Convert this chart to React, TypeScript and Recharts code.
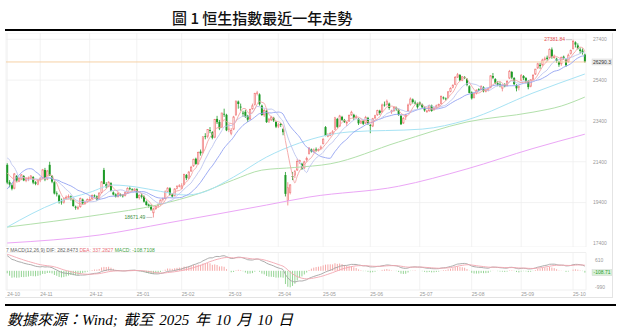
import {
  ComposedChart,
  Bar,
  Line,
  XAxis,
  YAxis,
  CartesianGrid,
  ReferenceLine,
  ReferenceDot,
} from 'recharts';

// month labels on the time axis and the number of trading days shown in each month
const monthLabels = ['24-10', '24-11', '24-12', '25-01', '25-02', '25-03', '25-04', '25-05', '25-06', '25-07', '25-08', '25-09', '25-10'];
const monthDays = [14, 21, 20, 19, 20, 21, 19, 20, 21, 22, 21, 22, 6];

// daily candles, Oct 2024 -> 10 Oct 2025
const opens = [
  21250, 20400, 20250, 20100, 20700, 20450, 20550, 20700, 20480, 20560, 20600, 20650, 20400, 20300,
  20520, 20600, 21000, 20550, 21250, 20700, 20400, 19850, 19750, 19450, 19400, 19600, 19650, 19700, 19550, 19200, 19100, 19200, 19550, 19350, 19450,
  19500, 19600, 19750, 19700, 19600, 19900, 21000, 20300, 20200, 20350, 19900, 19800, 19700, 19800, 19750, 19750, 19900, 20100, 20050, 20000,
  20050, 19650, 19750, 19700, 19450, 19300, 19250, 18900, 19100, 19250, 19300, 19550, 19600, 19950, 20100, 19800, 19750, 20100, 20200,
  20100, 20300, 20750, 20600, 20950, 21200, 21550, 21300, 21900, 21850, 22650, 22650, 22950, 22850, 22600, 23500, 23350, 23100, 23750, 23700,
  23000, 22800, 23000, 23700, 24350, 24100, 23800, 23850, 23650, 23500, 24000, 24200, 24750, 24700, 24150, 23700, 23900, 23400, 23450, 23550, 23350,
  23150, 23250, 23000, 20750, 19500, 19900, 20700, 20750, 21000, 21400, 21300, 21100, 21500, 21800, 22000, 21900, 22000, 21950, 22050,
  22300, 23100, 22650, 22700, 22800, 23000, 23500, 23150, 23600, 23450, 23300, 23400, 23700, 23700, 23550, 23500, 23300, 23400, 23300, 23550,
  23200, 23150, 23550, 23700, 23900, 23850, 24200, 24200, 24250, 23850, 23900, 24050, 23950, 23650, 23300, 23600, 23900, 24200, 24450, 24300, 24250,
  24300, 24200, 24050, 23850, 23900, 24150, 23950, 24050, 24150, 24250, 24550, 24500, 24550, 24850, 25050, 25200, 25550, 25650, 25400, 25550, 25450, 25100,
  24800, 24550, 24750, 24950, 24950, 25050, 24850, 24900, 25050, 25600, 25450, 25250, 25200, 25000, 25150, 25150, 25500, 25800, 25500, 25150, 25050,
  25400, 25600, 25500, 25350, 25100, 25450, 25700, 26000, 26150, 26150, 26400, 26500, 26500, 26900, 26500, 26450, 26300, 26200, 26550, 26400, 26300, 26700,
  26950, 27250, 27100, 26900, 26850, 26650,
];
const highs = [
  21330, 20500, 20350, 20850, 20750, 20650, 20800, 20750, 20650, 20680, 20750, 20700, 20450, 20550,
  20650, 21050, 21100, 21000, 21400, 20750, 20450, 19950, 19800, 19600, 19650, 19750, 19800, 19750, 19600, 19250, 19250, 19650, 19600, 19500, 19600,
  19700, 19800, 19800, 19750, 19900, 20450, 21100, 20400, 20450, 20400, 19950, 19850, 19900, 19850, 19800, 19950, 20150, 20200, 20100, 20100,
  20100, 19800, 19850, 19750, 19500, 19350, 19300, 19150, 19250, 19350, 19550, 19650, 20000, 20150, 20150, 19850, 20100, 20250, 20300,
  20350, 20800, 20800, 20950, 21200, 21550, 21600, 21900, 22000, 22650, 22800, 23000, 23100, 22900, 23500, 23650, 23450, 23800, 24000, 23750,
  23250, 23050, 23650, 24400, 24400, 24250, 23900, 23950, 23700, 24000, 24250, 24780, 24874, 24750, 24200, 24000, 23950, 23550, 23650, 23600, 23400,
  23300, 23300, 23050, 20900, 20400, 20300, 20900, 21000, 21550, 21500, 21350, 21450, 21650, 22100, 22050, 22050, 22100, 22050, 22200,
  22550, 23150, 22800, 22850, 22950, 23600, 23550, 23700, 23650, 23500, 23400, 23700, 23900, 23750, 23700, 23550, 23450, 23450, 23650, 23600,
  23250, 23550, 23700, 23950, 23950, 24250, 24350, 24450, 24300, 23950, 24100, 24100, 24000, 23700, 23600, 23750, 24250, 24550, 24500, 24400, 24300,
  24350, 24250, 24100, 23950, 24200, 24200, 24100, 24200, 24250, 24650, 24600, 24550, 24850, 25050, 25200, 25600, 25750, 25700, 25600, 25600, 25500, 25150,
  24850, 24750, 24950, 25000, 25150, 25100, 24950, 25000, 25650, 25750, 25500, 25350, 25300, 25200, 25250, 25400, 25900, 25850, 25550, 25200, 25150,
  25700, 25650, 25550, 25400, 25450, 25700, 25950, 26250, 26250, 26450, 26550, 26600, 26950, 27000, 26650, 26500, 26350, 26550, 26600, 26450, 26700, 26900,
  27381.84, 27300, 27200, 27000, 26950, 26700,
];
const lows = [
  20300, 20150, 20000, 20050, 20400, 20400, 20500, 20450, 20400, 20450, 20550, 20300, 20250, 20250,
  20400, 20550, 20450, 20500, 20700, 20350, 19800, 19700, 19350, 19300, 19350, 19550, 19600, 19500, 19200, 19050, 19050, 19150, 19300, 19300, 19400,
  19450, 19550, 19650, 19500, 19550, 19850, 20300, 20100, 20150, 19950, 19750, 19650, 19650, 19700, 19650, 19700, 19850, 20000, 19950, 19950,
  19600, 19550, 19600, 19400, 19250, 19150, 19000, 18671.49, 19050, 19150, 19250, 19450, 19580, 19900, 19750, 19650, 19700, 20050, 20150,
  20050, 20250, 20500, 20550, 20900, 21150, 21250, 21250, 21700, 21800, 22500, 22550, 22800, 22500, 22550, 23250, 22950, 23050, 23600, 22900,
  22850, 22700, 22950, 23650, 24000, 23900, 23600, 23550, 23350, 23450, 23950, 24150, 24650, 24150, 23650, 23600, 23300, 23300, 23400, 23350, 23050,
  23050, 23100, 22700, 19700, 19260, 19800, 20500, 20600, 20950, 21300, 21000, 21050, 21400, 21750, 21850, 21850, 21900, 21900, 22000,
  22250, 22650, 22600, 22650, 22750, 22950, 23050, 23100, 23400, 23300, 23150, 23350, 23650, 23450, 23500, 23200, 23250, 23200, 23250, 23200,
  22800, 23100, 23500, 23650, 23700, 23800, 24100, 24150, 23950, 23750, 23850, 23900, 23650, 23200, 23250, 23450, 23850, 24150, 24250, 24200, 24000,
  24150, 24000, 23850, 23800, 23850, 23850, 23900, 24000, 24100, 24200, 24450, 24400, 24500, 24800, 25000, 25150, 25500, 25350, 25350, 25450, 25100, 24750,
  24450, 24500, 24700, 24850, 24900, 24800, 24800, 24850, 25000, 25450, 25200, 25100, 25050, 24850, 25050, 25100, 25450, 25450, 25150, 24850, 24900,
  25350, 25400, 25250, 24950, 25050, 25400, 25650, 25950, 25950, 26100, 26350, 26350, 26450, 26450, 26450, 26250, 26050, 26100, 26400, 26050, 26250, 26650,
  26900, 27000, 26900, 26700, 26650, 26250,
];
const closes = [
  20380, 20286, 20079, 20804, 20478, 20599, 20761, 20489, 20590, 20599, 20701, 20380, 20317, 20506,
  20567, 21007, 20538, 20953, 20728, 20426, 19846, 19823, 19435, 19426, 19577, 19663, 19705, 19601, 19230, 19151, 19159, 19603, 19366, 19424, 19550,
  19550, 19746, 19742, 19560, 19866, 20415, 20311, 20156, 20398, 19971, 19796, 19700, 19865, 19753, 19721, 19883, 20098, 20090, 20041, 20060,
  19623, 19760, 19688, 19447, 19280, 19240, 19064, 19087, 19219, 19286, 19522, 19584, 19925, 20107, 19779, 19700, 20066, 20197, 20225,
  20217, 20790, 20597, 20891, 21133, 21521, 21294, 21857, 21814, 22620, 22616, 22976, 22944, 22577, 23478, 23341, 23035, 23788, 23718, 22941,
  23006, 22941, 23595, 24370, 24231, 24059, 23783, 23600, 23462, 23959, 24146, 24740, 24771, 24219, 23690, 23906, 23344, 23483, 23579, 23426, 23120,
  23207, 23202, 22849, 19828, 20128, 20264, 20682, 20915, 21418, 21466, 21057, 21395, 21562, 22073, 21909, 21980, 21972, 22008, 22119,
  22505, 22663, 22691, 22775, 22868, 23549, 23108, 23641, 23453, 23345, 23332, 23681, 23827, 23544, 23601, 23283, 23382, 23258, 23573, 23290,
  23158, 23512, 23655, 23907, 23793, 24181, 24162, 24367, 24035, 23892, 24061, 23980, 23711, 23238, 23530, 23689, 24177, 24474, 24325, 24284, 24072,
  24221, 24069, 23916, 23888, 24148, 23892, 24028, 24139, 24203, 24591, 24518, 24498, 24826, 24994, 25131, 25538, 25667, 25388, 25562, 25524, 25177, 24773,
  24508, 24733, 24902, 24910, 25082, 24859, 24907, 24969, 25613, 25519, 25270, 25177, 25122, 25166, 25105, 25339, 25830, 25525, 25202, 24998, 25077,
  25617, 25497, 25343, 25058, 25418, 25633, 25938, 26200, 26086, 26388, 26446, 26438, 26908, 26544, 26545, 26344, 26159, 26519, 26485, 26128, 26623, 26856,
  27287, 27141, 26958, 26830, 26753, 26290.3,
];

// closes before the window (Sep - mid Oct 2024), only used to warm up MA5/10/20 and MACD
const priorCloses = [
  17651, 17457, 17127, 17444, 17444, 17196, 17234, 17108, 17240, 17369, 17422, 17660, 18013, 18258,
  18247, 18779, 19129, 19924, 20632, 21133, 22443, 22114, 22737, 23100, 20927, 20637, 21252, 21092,
];
const macdSeed = { ema12: 17650, ema26: 17450, dea: 150 };

// long moving averages at a few days: [day index, value]
const ma60Pts: [number, number][] = [
  [0, 18200], [21, 19410], [35, 19900], [45, 20260], [55, 20160], [65, 19950], [76, 19770], [82, 19870],
  [96, 20650], [110, 21630], [124, 22320], [145, 22860], [176, 23000], [195, 23450], [223, 24770], [245, 25700],
];
const ma120Pts: [number, number][] = [
  [0, 18200], [39, 18800], [64, 19290], [82, 19870], [96, 20510], [108, 20990], [122, 21120], [137, 21300],
  [166, 22370], [195, 23350], [223, 23830], [235, 24130], [245, 24570],
];
const ma250Pts: [number, number][] = [
  [0, 17420], [39, 17810], [68, 18400], [110, 19280], [128, 19670], [166, 20200], [195, 21050], [223, 22050], [245, 22750],
];

const priceTicks = [17400, 19400, 21400, 23400, 25400, 27400];
// the "0" tick sits under the -108.71 tag in the original, so only these two show
const macdTicks = [610, -990];
const lastPrice = 26290.3;
const lastMacd = -108.7108;
const macdText = { dif: '282.8473', dea: '337.2827', macd: '-108.7108' };

const monthStarts: number[] = [];
monthDays.reduce((acc, d) => {
  monthStarts.push(acc);
  return acc + d;
}, 0);
const labelOf = new Map(monthStarts.map((s, k) => [s, monthLabels[k]]));

const allCloses = [...priorCloses, ...closes];
const P = priorCloses.length;
const maAt = (n: number, i: number) => {
  const p = i + P;
  const from = Math.max(0, p - n + 1);
  let s = 0;
  for (let k = from; k <= p; k++) s += allCloses[k];
  return s / (p - from + 1);
};

let e12 = macdSeed.ema12;
let e26 = macdSeed.ema26;
let dea = macdSeed.dea;
const macdAll = allCloses.map((c) => {
  e12 += ((c - e12) * 2) / 13;
  e26 += ((c - e26) * 2) / 27;
  const dif = e12 - e26;
  dea += ((dif - dea) * 2) / 10;
  return { dif, dea, hist: 2 * (dif - dea) };
});

const m60 = new Map(ma60Pts);
const m120 = new Map(ma120Pts);
const m250 = new Map(ma250Pts);

const rows = closes.map((c, i) => ({
  i,
  o: opens[i],
  h: highs[i],
  l: lows[i],
  c,
  lh: [lows[i], highs[i]],
  ma5: maAt(5, i),
  ma10: maAt(10, i),
  ma20: maAt(20, i),
  ma60: m60.get(i) ?? null,
  ma120: m120.get(i) ?? null,
  ma250: m250.get(i) ?? null,
  ...macdAll[i + P],
}));

const peakIdx = highs.indexOf(Math.max(...highs));
const lowIdx = lows.indexOf(Math.min(...lows));

const UP = '#f07b7b';
const DOWN = '#1d9a26';
const GRID = '#efefef';
const AXIS_TXT = '#9a9a9a';

function Candle(props: any) {
  const { x, y, width, height, payload } = props;
  if (!payload) return null;
  const { o, h, l, c } = payload;
  const yTop = Math.min(y, y + height);
  const hh = Math.abs(height);
  const span = h - l || 1;
  const py = (v: number) => yTop + ((h - v) / span) * hh;
  const up = c >= o;
  const col = up ? UP : DOWN;
  const cx = x + width / 2;
  const top = py(Math.max(o, c));
  const bot = py(Math.min(o, c));
  return (
    <g>
      <line x1={cx} x2={cx} y1={yTop} y2={yTop + hh} stroke={col} strokeWidth={0.8} />
      {up ? (
        <rect x={x + 0.35} y={top} width={Math.max(width - 0.7, 0.6)} height={Math.max(bot - top, 0.6)}
          fill="#fff" stroke={col} strokeWidth={0.7} />
      ) : (
        <rect x={x} y={top} width={width} height={Math.max(bot - top, 0.8)} fill={col} />
      )}
    </g>
  );
}

function HistBar(props: any) {
  const { x, y, width, height, payload } = props;
  if (!payload) return null;
  const top = Math.min(y, y + height);
  const cx = x + width / 2;
  return <rect x={cx - 0.5} y={top} width={1} height={Math.abs(height)}
    fill={payload.hist >= 0 ? '#f6a9a9' : '#94d494'} />;
}

function ExtremeTag({ cx, cy, text, color }: any) {
  return (
    <g>
      <line x1={cx - 7} x2={cx - 1} y1={cy} y2={cy} stroke="#aaa" strokeWidth={0.6} />
      <text x={cx - 8} y={cy + 1.8} fontSize={5} fill={color} textAnchor="end">{text}</text>
    </g>
  );
}

function SideTag({ viewBox, text, fill, color }: any) {
  if (!viewBox) return null;
  const x = viewBox.x + viewBox.width + 6;
  return (
    <g>
      <rect x={x} y={viewBox.y - 3} width={20} height={6} fill={fill} stroke="#d0d0d0" strokeWidth={0.4} />
      <text x={x + 10} y={viewBox.y + 1.8} fontSize={5} fill={color} textAnchor="middle">{text}</text>
    </g>
  );
}

function DateTick({ x, y, payload }: any) {
  return (
    <text x={x} y={y + 5.5} fontSize={5} fill={AXIS_TXT} textAnchor="start">
      {labelOf.get(payload.value) ?? ''}
    </text>
  );
}

const axisTick = { fontSize: 5, fill: AXIS_TXT };

export default function App() {
  return (
    <div style={{ position: 'absolute', left: 0, top: 0, width: 623, height: 335, background: '#fff',
      fontFamily: 'Arial, "Liberation Sans", sans-serif' }}>
      <div style={{ position: 'absolute', left: 172, top: 9, whiteSpace: 'nowrap', fontSize: 15,
        lineHeight: '17px', color: '#111', fontWeight: 500, fontFamily: '"Noto Sans CJK TC", sans-serif' }}>
        圖 1 恒生指數最近一年走勢
      </div>
      <div style={{ position: 'absolute', left: 5, top: 29, width: 611, height: 2, background: '#000' }} />

      <div style={{ position: 'absolute', left: 5, top: 33, width: 607, height: 264,
        borderRight: '1px solid #e4e4e4', borderBottom: '1px solid #e4e4e4' }} />

      <div style={{ position: 'absolute', left: 0, top: 33 }}>
        <ComposedChart width={612} height={214} data={rows} margin={{ top: 0, right: 0, bottom: 0, left: 6 }}>
          <CartesianGrid stroke={GRID} strokeWidth={0.8} />
          <XAxis dataKey="i" type="category" ticks={monthStarts} interval={0} hide />
          <YAxis orientation="right" width={26} domain={[17224, 27709]} ticks={priceTicks}
            tick={axisTick} axisLine={false} tickLine={false} tickSize={6} tickMargin={1} />
          <ReferenceLine y={lastPrice} stroke="#f6d2a6" strokeWidth={1}
            label={<SideTag text="26290.3" fill="#ececec" color="#333" />} />
          <Bar dataKey="lh" shape={<Candle />} isAnimationActive={false} />
          <Line dataKey="ma250" type="monotone" stroke="#eba6f6" strokeWidth={1} dot={false} connectNulls isAnimationActive={false} />
          <Line dataKey="ma120" type="monotone" stroke="#b2e0ab" strokeWidth={1} dot={false} connectNulls isAnimationActive={false} />
          <Line dataKey="ma60" type="monotone" stroke="#a7e3f4" strokeWidth={1} dot={false} connectNulls isAnimationActive={false} />
          <Line dataKey="ma20" type="monotone" stroke="#93a3f2" strokeWidth={0.9} dot={false} isAnimationActive={false} />
          <Line dataKey="ma10" type="monotone" stroke="#bcc4ee" strokeWidth={0.9} dot={false} isAnimationActive={false} />
          <Line dataKey="ma5" type="monotone" stroke="#f3a3a3" strokeWidth={0.9} dot={false} isAnimationActive={false} />
          <ReferenceDot x={peakIdx} y={highs[peakIdx]} r={0}
            shape={(p: any) => <ExtremeTag cx={p.cx} cy={p.cy} text={highs[peakIdx].toFixed(2)} color="#e24c4c" />} />
          <ReferenceDot x={lowIdx} y={lows[lowIdx]} r={0}
            shape={(p: any) => <ExtremeTag cx={p.cx} cy={p.cy} text={lows[lowIdx].toFixed(2)} color="#3f8f3f" />} />
        </ComposedChart>
      </div>

      <div style={{ position: 'absolute', left: 0, top: 248 }}>
        <ComposedChart width={612} height={50} data={rows} margin={{ top: 4.5, right: 0, bottom: 0, left: 6 }}>
          <CartesianGrid stroke={GRID} strokeWidth={0.8} horizontal={false} />
          <XAxis dataKey="i" type="category" ticks={monthStarts} interval={0} height={8}
            axisLine={false} tickLine={false} tickSize={0} tickMargin={0} tick={<DateTick />} />
          <YAxis orientation="right" width={26} domain={[-1155, 1101]} ticks={macdTicks}
            tick={axisTick} axisLine={false} tickLine={false} tickSize={6} tickMargin={3} />
          <ReferenceLine y={1101} stroke={GRID} />
          <ReferenceLine y={-1155} stroke={GRID} />
          <Bar dataKey="hist" shape={<HistBar />} isAnimationActive={false} />
          <Line dataKey="dif" type="monotone" stroke="#a3a3a3" strokeWidth={0.9} dot={false} isAnimationActive={false} />
          <Line dataKey="dea" type="monotone" stroke="#f3a6b0" strokeWidth={0.9} dot={false} isAnimationActive={false} />
          <ReferenceLine y={lastMacd} stroke="none"
            label={<SideTag text="-108.71" fill="#d8f1d8" color="#2f9a2f" />} />
        </ComposedChart>
      </div>

      <svg style={{ position: 'absolute', left: 0, top: 245 }} width={200} height={10}>
        <text x={6} y={6.5} fontSize={5}>
          <tspan fill="#666">7 MACD(12,26,9) DIF: {macdText.dif} </tspan>
          <tspan fill="#e8707a">DEA: {macdText.dea} </tspan>
          <tspan fill="#3f9f3f">MACD: {macdText.macd}</tspan>
        </text>
      </svg>

      <div style={{ position: 'absolute', left: 5, top: 304, width: 611, height: 2, background: '#000' }} />
      <div style={{ position: 'absolute', left: 7, top: 311, fontSize: 15, lineHeight: '18px', fontStyle: 'italic',
        whiteSpace: 'nowrap', wordSpacing: 2, color: '#000',
        fontFamily: '"Liberation Serif", "Noto Sans CJK TC", serif' }}>
        數據來源：Wind; 截至 2025 年 10 月 10 日
      </div>
    </div>
  );
}
